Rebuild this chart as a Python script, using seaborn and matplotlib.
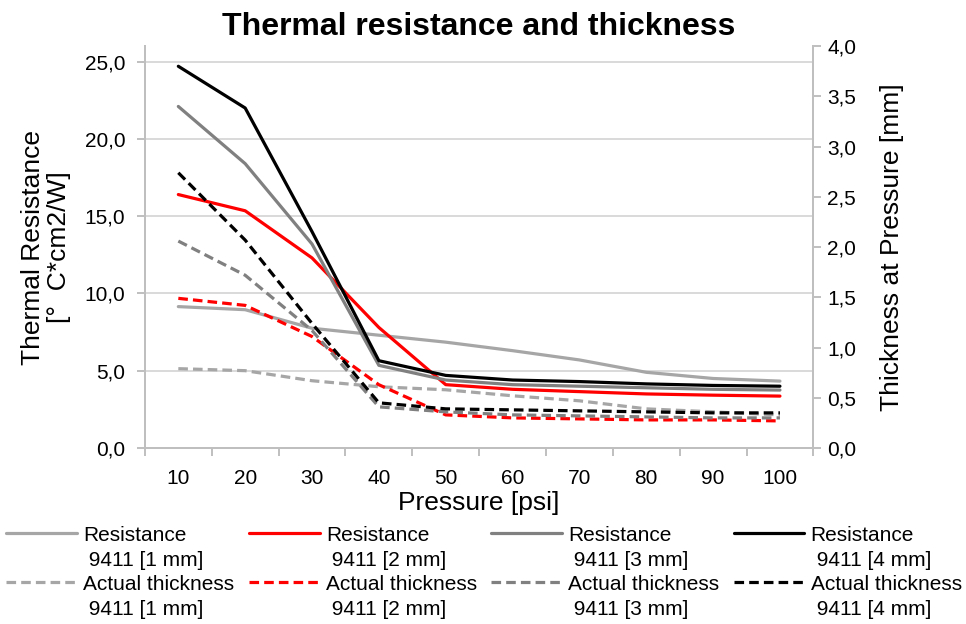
import numpy as np
import pandas as pd
import matplotlib
matplotlib.use("Agg")
import matplotlib.pyplot as plt
from matplotlib.ticker import FuncFormatter, FixedLocator
from matplotlib.legend_handler import HandlerLine2D
import seaborn as sns

sns.set_style("white")
plt.rcParams['font.family'] = ['Liberation Sans', 'DejaVu Sans']
plt.rcParams['text.color'] = 'black'
plt.rcParams['axes.labelcolor'] = 'black'

# data
pressure = [10, 20, 30, 40, 50, 60, 70, 80, 90, 100]
sizes = ["1 mm", "2 mm", "3 mm", "4 mm"]
colors = ["#A6A6A6", "#FF0000", "#808080", "#000000"]

res_1mm = [9.15, 8.95, 7.75, 7.3, 6.85, 6.3, 5.7, 4.9, 4.5, 4.33]
res_2mm = [16.4, 15.35, 12.3, 7.8, 4.1, 3.8, 3.65, 3.5, 3.42, 3.36]
res_3mm = [22.1, 18.4, 13.2, 5.35, 4.4, 4.1, 4.0, 3.9, 3.8, 3.75]
res_4mm = [24.7, 22.0, 14.0, 5.65, 4.7, 4.4, 4.3, 4.15, 4.05, 4.0]

thk_1mm = [0.79, 0.77, 0.67, 0.61, 0.58, 0.52, 0.47, 0.39, 0.36, 0.33]
thk_2mm = [1.49, 1.42, 1.11, 0.63, 0.33, 0.30, 0.29, 0.28, 0.28, 0.27]
thk_3mm = [2.06, 1.72, 1.17, 0.41, 0.36, 0.33, 0.32, 0.31, 0.30, 0.30]
thk_4mm = [2.74, 2.07, 1.24, 0.45, 0.39, 0.38, 0.37, 0.36, 0.35, 0.35]

resistance = [res_1mm, res_2mm, res_3mm, res_4mm]
thickness = [thk_1mm, thk_2mm, thk_3mm, thk_4mm]

fig = plt.figure(figsize=(9.66, 6.24), dpi=100)
ax = fig.add_axes([0.150, 0.282, 0.692, 0.644])
ax2 = ax.twinx()

dash = (0, (3, 1.6))
res_lines, thk_lines = [], []
for size, col, r, t in zip(sizes, colors, resistance, thickness):
    sns.lineplot(x=pressure, y=r, color=col, lw=2.3, ax=ax, legend=False)
    res_lines.append(ax.lines[-1])
    sns.lineplot(x=pressure, y=t, color=col, lw=2.3, ax=ax2, legend=False,
                 linestyle=dash)
    thk_lines.append(ax2.lines[-1])

# axes styling (Excel-like)
axis_col = "#BFBFBF"
ax.set_xlim(5, 105)
ax.set_ylim(0, 26)
ax2.set_ylim(0, 4)
ax.set_yticks(np.arange(0, 26, 5))
ax2.set_yticks(np.arange(0, 4.01, 0.5))
ax.set_xticks(pressure)
ax.xaxis.set_minor_locator(FixedLocator(np.arange(5, 106, 10)))
comma = FuncFormatter(lambda v, p: f"{v:.1f}".replace(".", ","))
ax.yaxis.set_major_formatter(comma)
ax2.yaxis.set_major_formatter(comma)

ax.grid(axis="y", color="#D9D9D9", lw=1.4)
ax.set_axisbelow(True)
for a in (ax, ax2):
    for s in a.spines.values():
        s.set_color(axis_col)
        s.set_linewidth(1.4)
    a.spines["top"].set_visible(False)
ax.tick_params(axis="x", which="major", bottom=True, length=0, labelsize=15,
               pad=15, labelcolor="black")
ax.tick_params(axis="x", which="minor", bottom=True, length=6, width=1.4, color=axis_col)
ax.tick_params(axis="y", left=True, length=6, width=1.4, color=axis_col,
               labelsize=15, pad=8, labelcolor="black")
ax2.tick_params(axis="y", right=True, length=6, width=1.4, color=axis_col,
                labelsize=15, pad=4, labelcolor="black")

ax.set_title("Thermal resistance and thickness", fontsize=23, fontweight="bold", pad=8)
ax.set_xlabel("Pressure [psi]", fontsize=19, labelpad=2)
ax.set_ylabel("Thermal Resistance\n[°  C*cm2/W]", fontsize=19, labelpad=10, linespacing=1.1)
ax2.set_ylabel("Thickness at Pressure [mm]", fontsize=19, labelpad=17)


class UpperLine(HandlerLine2D):
    # put the legend sample next to the first line of a two-line label
    def create_artists(self, legend, orig_handle, xdescent, ydescent, width,
                       height, fontsize, trans):
        arts = super().create_artists(legend, orig_handle, xdescent, ydescent,
                                      width, height, fontsize, trans)
        for a in arts:
            a.set_ydata(np.asarray(a.get_ydata(), dtype=float) + 0.7 * fontsize)
        return arts


handles, labels = [], []
for size, rl, tl in zip(sizes, res_lines, thk_lines):
    handles += [rl, tl]
    labels += [f"Resistance\n 9411 [{size}]", f"Actual thickness\n 9411 [{size}]"]

leg = fig.legend(handles, labels, ncol=4, loc="upper left",
                 bbox_to_anchor=(-0.002, 0.171),
                 frameon=False, fontsize=15, handlelength=3.4, handletextpad=0.3,
                 columnspacing=0.68, labelspacing=0.25, borderaxespad=0.0,
                 handler_map={matplotlib.lines.Line2D: UpperLine()})
for t in leg.get_texts():
    t.set_linespacing(1.4)

fig.savefig("out.png", dpi=100)
